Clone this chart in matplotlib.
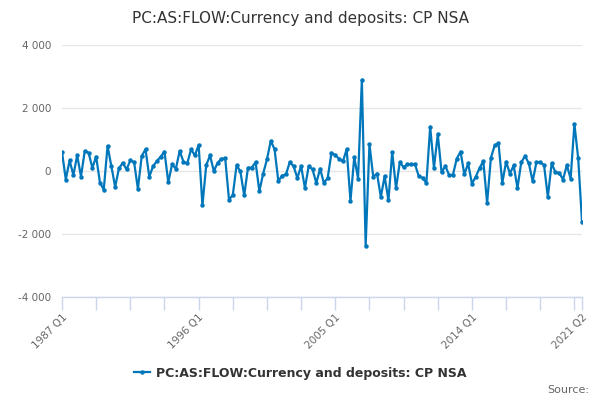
import numpy as np
import matplotlib
matplotlib.use('Agg')
import matplotlib.pyplot as plt

title = 'PC:AS:FLOW:Currency and deposits: CP NSA'
series_name = 'PC:AS:FLOW:Currency and deposits: CP NSA'
start_year = 1987
start_q = 1

values = [
    600, -270, 335, -130, 495, -175, 635, 580, 100, 455,
    -370, -590, 795, 155, -505, 80, 260, 50, 335, 280,
    -570, 475, 690, -185, 155, 315, 455, 615, -360, 210,
    70, 635, 295, 240, 690, 495, 825, -1095, 185, 495,
    -5, 260, 390, 400, -910, -760, 185, -15, -775, 100,
    110, 280, -645, -80, 370, 955, 690, -325, -145, -110,
    280, 155, -220, 155, -540, 155, 50, -380, 70, -380,
    -220, 580, 505, 390, 305, 690, -945, 440, -240, 2895,
    -2375, 850, -185, -80, -825, -165, -935, 600, -550, 280,
    120, 210, 210, 210, -165, -220, -380, 1400, 100, 1170,
    -40, 155, -130, -120, 390, 615, -110, 240, -400, -185,
    90, 315, -1020, 420, 815, 880, -380, 295, -80, 175,
    -540, 280, 475, 240, -325, 280, 280, 185, -825, 240,
    -40, -60, -270, 185, -240, 1490, 400, -1605,
]

yticks = [-4000, -2000, 0, 2000, 4000]
label_idx = [0, 36, 72, 108, 137]


def quarter_label(i):
    q = start_q - 1 + i
    return f'{start_year + q // 4} Q{q % 4 + 1}'


def fmt_thousands(v):
    s = f'{abs(int(v)):,}'.replace(',', ' ')
    return ('-' if v < 0 else '') + s


line_col = '#0077bb'
grid_col = '#e6e6e6'
axis_col = '#ccd6eb'
text_col = '#666666'

fig = plt.figure(figsize=(6, 4), dpi=100)
ax = fig.add_axes([62 / 600, 1 - 297 / 400, 520 / 600, 252 / 400])

x = np.arange(len(values))
line, = ax.plot(x, values, color=line_col, lw=1.6, marker='o', markersize=2.2,
                zorder=3, label=series_name)

ax.set_xlim(0, len(values) - 1)
ax.set_ylim(-4000, 4000)
ax.set_yticks(yticks)
ax.set_yticklabels([fmt_thousands(v) for v in yticks])
ax.yaxis.grid(True, color=grid_col, lw=1)
ax.set_axisbelow(True)
ax.tick_params(axis='y', length=0, labelsize=7.5, labelcolor=text_col, pad=8)

ticks = sorted(set(range(0, len(values), 9)) | set(label_idx))
ax.set_xticks(ticks)
ax.set_xticklabels([quarter_label(i) if i in label_idx else '' for i in ticks],
                   rotation=45, ha='right', rotation_mode='anchor')
ax.tick_params(axis='x', length=9, color=axis_col, width=1,
               labelsize=7.5, labelcolor=text_col, pad=2)

for s in ['top', 'right', 'left']:
    ax.spines[s].set_visible(False)
ax.spines['bottom'].set_color(axis_col)
ax.spines['bottom'].set_linewidth(1)

fig.text(0.5, 1 - 18 / 400, title, ha='center', va='center',
         fontsize=11, color='#333333')

leg = fig.legend(handles=[line], loc='center', bbox_to_anchor=(0.5, 1 - 373 / 400),
                 frameon=False, handlelength=1.3, handletextpad=0.5,
                 prop={'weight': 'bold', 'size': 9})
for t in leg.get_texts():
    t.set_color('#333333')

fig.text(589 / 600, 1 - 390 / 400, 'Source:', ha='right', va='center',
         fontsize=8, color=text_col)

fig.savefig('out.png', dpi=100)
